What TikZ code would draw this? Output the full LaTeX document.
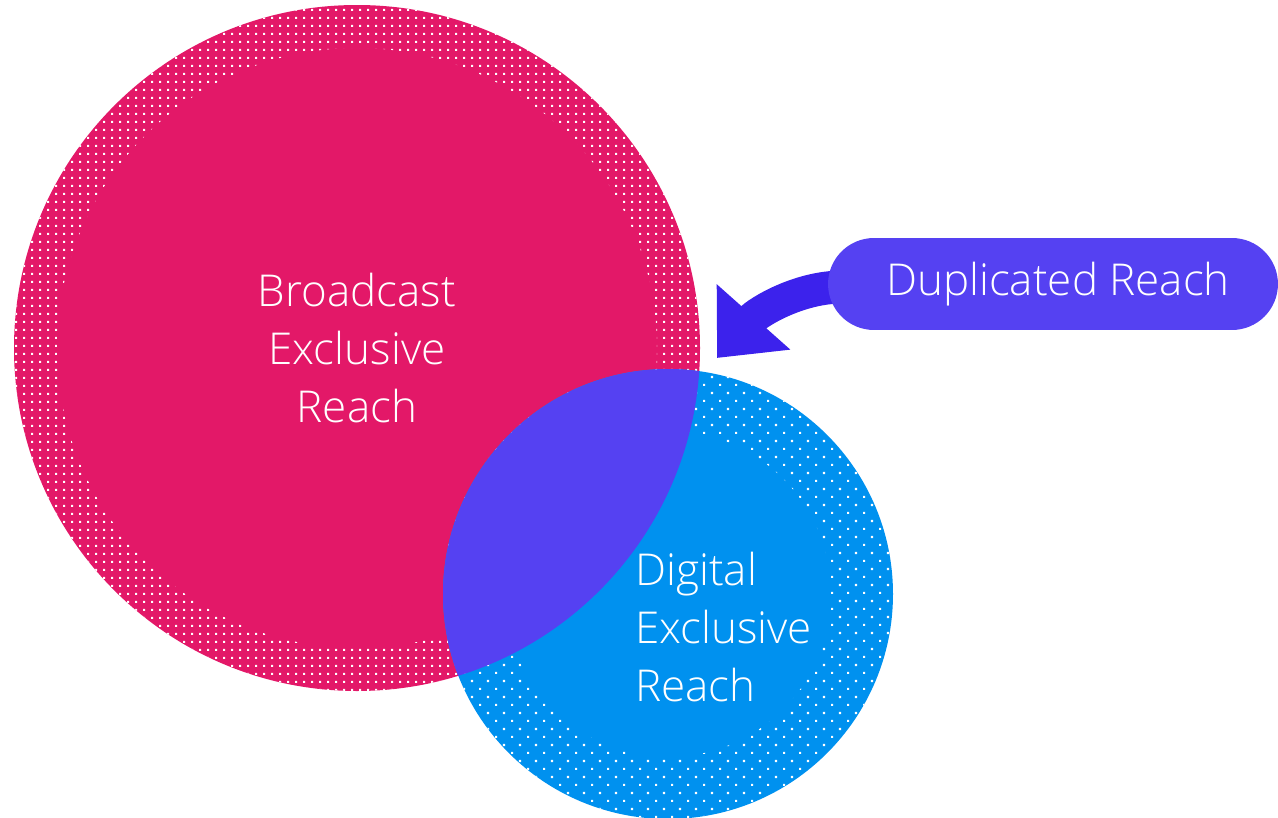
\documentclass[tikz,border=0pt]{standalone}
\usepackage{fontspec}
\IfFontExistsTF{Open Sans Light}{\setmainfont{Open Sans Light}}{\setmainfont{Open Sans}}
\usetikzlibrary{patterns.meta,arrows.meta,backgrounds}

\definecolor{bcpink}{RGB}{227,24,104}
\definecolor{digblue}{RGB}{0,145,239}
\definecolor{duppurple}{RGB}{85,65,242}
\definecolor{arrowviolet}{RGB}{60,34,236}

% white dot screens for the rims
\tikzdeclarepattern{
  name=squaredots, type=uncolored,
  bounding box={(0cm,0cm) and (0.16cm,0.16cm)},
  tile size={(0.16cm,0.16cm)},
  code={\fill (0cm,0cm) rectangle (0.045cm,0.045cm);}
}
\tikzdeclarepattern{
  name=offsetdots, type=uncolored,
  bounding box={(0cm,0cm) and (0.32cm,0.32cm)},
  tile size={(0.32cm,0.32cm)},
  code={\fill (0cm,0cm) rectangle (0.045cm,0.045cm);
        \fill (0.16cm,0.16cm) rectangle (0.205cm,0.205cm);}
}

\begin{document}
\begin{tikzpicture}[x=0.02cm,y=-0.02cm,
        reachtext/.style={text=white,font=\fontsize{25}{33}\selectfont},
        rim/.style={pattern=#1,pattern color=white,even odd rule}]
    \useasboundingbox (0,0) rectangle (1278,818);
    \coordinate (bc) at (357,348);
    \coordinate (dc) at (668,594);
    % broadcast disc
    \fill[bcpink] (bc) circle (343);
    \fill[rim=squaredots] (bc) circle (343) (bc) circle (300);
    % digital disc
    \fill[digblue] (dc) circle (225);
    \fill[rim=offsetdots] (dc) circle (225) (dc) circle (163);
    % overlap
    \begin{scope}
        \clip (bc) circle (343);
        \fill[duppurple] (dc) circle (225);
    \end{scope}
    \node (bctext) [reachtext,align=center] at (357,348) {Broadcast\\Exclusive\\Reach};
    \node (digtext) [reachtext,align=left,anchor=west] at (629,627) {Digital\\Exclusive\\Reach};
    \node (dup) [reachtext,fill=duppurple,rounded corners=0.92cm,
        minimum width=9cm,minimum height=1.84cm,inner sep=0pt] at (1053,284) {\hspace*{0.2cm}Duplicated Reach};
    \coordinate (duptip) at (717,358);
    \begin{scope}[on background layer]
        \draw[arrowviolet,line width=0.66cm,-{Triangle[length=1.1cm,width=1.9cm]}]
            ([xshift=0.3cm,yshift=-0.06cm]dup.west) .. controls +(-45,0) and +(40,-45) .. (duptip);
    \end{scope}
\end{tikzpicture}
\end{document}
